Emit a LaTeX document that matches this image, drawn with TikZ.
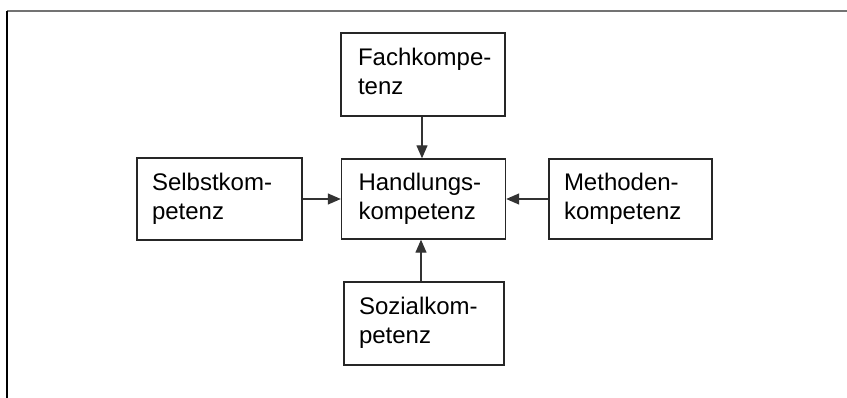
\documentclass[tikz,border=0pt]{standalone}
\usepackage{fontspec}
\setmainfont{Liberation Sans}
\usetikzlibrary{arrows.meta}

\tikzset{
  compbox/.style={draw=black!85, line width=1.4pt, inner ysep=0pt,
    minimum height=#1, align=left,
    font=\fontsize{24}{29}\selectfont},
  arr/.style={draw=black!80, line width=1.3pt,
    -{Triangle[length=13pt,width=11pt]}},
  frame/.style={line width=1.8pt}
}

% two-line label, left aligned
\newcommand{\twolines}[2]{\begin{tabular}{@{}l@{}}#1\\#2\end{tabular}}

\begin{document}
\begin{tikzpicture}[x=1pt,y=-1pt]
  \useasboundingbox (0,0) rectangle (847,398);

  % page frame (top and left edges)
  \coordinate (ftl) at (7.3,11);
  \coordinate (ftr) at (847,11);
  \coordinate (fbl) at (7.3,398);
  \draw[frame, draw=black!55] (ftl) -- (ftr);
  \draw[frame, draw=black] (ftl) -- (fbl);

  % competence boxes
  \node[compbox=83pt, text width=130pt, inner xsep=17pt] (fach) at (423,74.5)
    {\twolines{Fachkompe-}{tenz}};
  \node[compbox=80pt, text width=130pt, inner xsep=17pt] (hand) at (423.5,199)
    {\twolines{Handlungs-}{kompetenz}};
  \node[compbox=82pt, text width=135pt, inner xsep=15pt] (selbst) at (219.5,199)
    {\twolines{Selbstkom-}{petenz}};
  \node[compbox=80pt, text width=133pt, inner xsep=15pt] (meth) at (630.5,199)
    {\twolines{Methoden-}{kompetenz}};
  \node[compbox=83pt, text width=130pt, inner xsep=15pt] (soz) at (424,323.5)
    {\twolines{Sozialkom-}{petenz}};

  % contributions to the central competence
  \draw[arr] (fach.south -| 422,0) -- (hand.north -| 422,0);
  \draw[arr] (selbst) -- (hand);
  \draw[arr] (meth) -- (hand);
  \draw[arr] (soz.north -| 421,0) -- (hand.south -| 421,0);
\end{tikzpicture}
\end{document}
